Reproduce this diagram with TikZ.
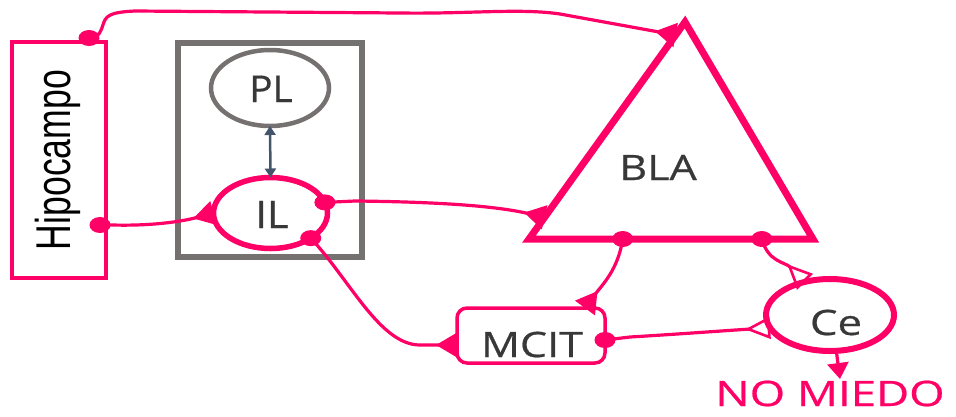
\documentclass[tikz,border=0pt]{standalone}
\usepackage{fontspec}
\setmainfont{Open Sans}
\newfontfamily\labf[FakeBold=0.5]{Open Sans}
\newfontfamily\hipf{Liberation Sans}
\usetikzlibrary{arrows.meta,shapes.geometric,calc}
\definecolor{pk}{RGB}{255,0,102}
\definecolor{gr}{RGB}{118,113,113}
\definecolor{tx}{RGB}{56,56,56}
\definecolor{db}{RGB}{68,84,106}
\begin{document}
\begin{tikzpicture}[x=1pt,y=-1pt,
  con/.style={draw=pk, line width=3.2pt},
  exc/.style={-{Triangle[reversed,length=21pt,width=24pt]}},
  oexc/.style={-{Triangle[open,reversed,length=25pt,width=22pt,line width=2.6pt]}},
  dot/.style={ellipse, fill=pk, minimum width=21pt, minimum height=16pt, inner sep=0pt},
  lab/.style={text=tx, font=\labf\fontsize{35}{40}\selectfont, anchor=base, inner sep=0pt},
  every node/.style={outer sep=0pt}]
\useasboundingbox (0,0) rectangle (956,416);
% shapes
\node[draw=pk, line width=3.5pt, minimum width=94pt, minimum height=236pt, inner sep=0pt] (Hip) at (59,160) {};
\node[rotate=90, anchor=base, inner sep=0pt, font=\hipf\fontsize{40.7}{44}\selectfont] (HipT) at (70,160) {\scalebox{0.875}[1.2]{Hipocampo}};
\node[draw=gr, line width=6pt, minimum width=184pt, minimum height=214pt, inner sep=0pt] (box) at (270,150) {};
\node[ellipse, draw=gr, line width=4.5pt, minimum width=118pt, minimum height=76pt, inner sep=0pt] (PL) at (270,88) {};
\node[lab, font=\labf\fontsize{37}{40}\selectfont] (PLT) at (271,102) {\scalebox{1.05}[1]{PL}};
\node[ellipse, draw=pk, line width=5.5pt, minimum width=114pt, minimum height=71pt, inner sep=0pt] (IL) at (270.5,213) {};
\node[lab, font=\labf\fontsize{38}{40}\selectfont] (ILT) at (272,228) {\scalebox{1.1}[1]{IL}};
\coordinate (ap) at (685,22);
\coordinate (bl) at (529,239);
\coordinate (br) at (813,239);
\draw[pk, line width=7pt, line join=miter] (ap) -- (bl) -- (br) -- cycle;
\node[lab] (BLA) at (658,180) {\scalebox{1.23}[1]{BLA}};
\node[draw=pk, line width=3.5pt, rounded corners=10pt, minimum width=148pt, minimum height=55pt, inner sep=0pt] (MC) at (531,335.5) {};
\node[lab] (MCT) at (532,357) {\scalebox{1.23}[1]{MCIT}};
\node[ellipse, draw=pk, line width=6pt, minimum width=128pt, minimum height=72pt, inner sep=0pt] (Ce) at (830,315) {};
\node[lab] (CeT) at (836,335) {\scalebox{1.25}[1]{Ce}};
\node[lab, text=pk] (nm) at (830,406) {\scalebox{1.3}[1]{NO MIEDO}};
\coordinate (nmtip) at (840,379);
% dots
\node[dot] (d1) at (89,38) {};
\node[dot] (d2) at (100,225) {};
\node[dot] (d3) at (IL.11) {};
\node[dot] (d4) at (IL.-32) {};
\node[dot] (d5) at ($(bl)!0.33!(br)$) {};
\node[dot] (d6) at ($(bl)!0.82!(br)$) {};
\node[dot] (d7) at (605,340) {};
% connectors
\draw[con, exc] (d1.center) .. controls (100,38) and (101,30) .. (104,22) .. controls (107,14) and (115,12) .. (135,11) -- (400,13) .. controls (470,14) and (520,8) .. (560,14) -- ($(ap)!0.06!(bl)$);
\draw[con, exc] (d2.center) -- (112,225) .. controls (150,226) and (180,222) .. (IL.west);
\draw[con, exc] (d3.center) -- (355,201) .. controls (450,202) and (500,207) .. ($(bl)!0.10!(ap)$);
\draw[con, exc] (d4.center) .. controls (350,280) and (380,345) .. (420,345) -- (MC.west |- 0,345);
\draw[con, exc] (d5.center) .. controls (618,270) and (602,285) .. ([xshift=54pt]MC.north);
\draw[con, oexc] (d6.center) .. controls (768,262) and (785,262) .. (Ce.127);
\draw[con, oexc] (d7.center) -- (630,337) .. controls (680,334) and (720,331) .. (Ce.192);
\draw[con, -{Triangle[length=16pt,width=21pt]}] (Ce.-80) -- (nmtip);
\draw[db, line width=2.5pt, {Triangle[length=9pt,width=11pt]}-{Triangle[length=9pt,width=11pt]}] (PL.south) -- (IL.north);
\end{tikzpicture}
\end{document}
